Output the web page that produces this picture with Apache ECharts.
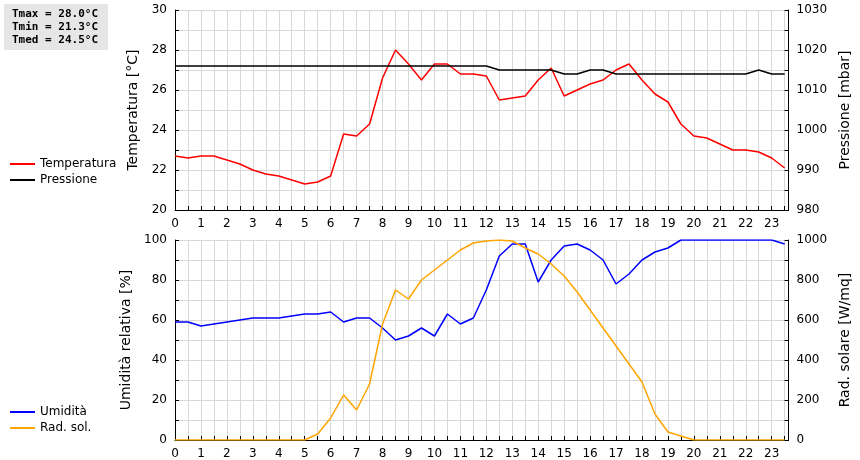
<!DOCTYPE html><html><head><meta charset="utf-8"><script src="https://cdn.jsdelivr.net/npm/echarts@6/dist/echarts.min.js"></script>
<style>body{margin:0}#c{width:860px;height:460px}</style></head><body><div id="c"></div><script>
const hours=[];for(let i=0;i<48;i++)hours.push(i/2);
const temperatura=[22.7,22.6,22.7,22.7,22.5,22.3,22.0,21.8,21.7,21.5,21.3,21.4,21.7,23.8,23.7,24.3,26.6,28.0,27.3,26.5,27.3,27.3,26.8,26.8,26.7,25.5,25.6,25.7,26.5,27.1,25.7,26.0,26.3,26.5,27.0,27.3,26.5,25.8,25.4,24.3,23.7,23.6,23.3,23.0,23.0,22.9,22.6,22.1];
const pressione=[1016,1016,1016,1016,1016,1016,1016,1016,1016,1016,1016,1016,1016,1016,1016,1016,1016,1016,1016,1016,1016,1016,1016,1016,1016,1015,1015,1015,1015,1015,1014,1014,1015,1015,1014,1014,1014,1014,1014,1014,1014,1014,1014,1014,1014,1015,1014,1014];
const umidita=[59,59,57,58,59,60,61,61,61,62,63,63,64,59,61,61,56,50,52,56,52,63,58,61,75,92,98,98,79,90,97,98,95,90,78,83,90,94,96,100,100,100,100,100,100,100,100,98];
const radsol=[0,0,0,0,0,0,0,0,0,0,0,30,110,225,150,280,580,750,705,800,850,900,950,985,995,1000,995,960,930,880,820,740,650,560,470,380,290,130,40,20,0,0,0,0,0,0,0,0];
const pairs=a=>a.map((v,i)=>[hours[i],v]);
const ax={color:'#000',fontSize:12,fontFamily:'DejaVu Sans'};
const line={lineStyle:{color:'#000'}};
const gl={show:true,lineStyle:{color:'#d8d8d8'}};
function xA(g){return {type:'value',gridIndex:g,min:0,max:23.65,interval:0.5,axisLine:line,axisTick:{inside:true,length:4,lineStyle:{color:'#000'}},splitLine:gl,axisLabel:Object.assign({},ax,{showMaxLabel:false,formatter:v=>Number.isInteger(v)?v:''})};}
function yA(g,min,max,iv,lab,name,pos,split){return {type:'value',gridIndex:g,position:pos,min,max,interval:iv,name,nameLocation:'middle',nameGap:pos=='left'?28:42,nameTextStyle:{color:'#000',fontSize:14,fontFamily:'DejaVu Sans'},axisLine:{show:true,lineStyle:{color:'#000'}},axisTick:{show:true,inside:true,length:4,lineStyle:{color:'#000'}},splitLine:split?gl:{show:false},axisLabel:Object.assign({},ax,{formatter:v=>(Math.round(v-min)%lab===0)?v:''})};}
const chart=echarts.init(document.getElementById('c'));
chart.setOption({animation:false,backgroundColor:'#fff',
grid:[{left:175,right:70,top:10,height:200},{left:175,right:70,top:240,height:200}],
xAxis:[xA(0),xA(1)],
yAxis:[yA(0,20,30,1,2,'Temperatura [°C]','left',true),yA(0,980,1030,5,10,'Pressione [mbar]','right',false),yA(1,0,100,10,20,'Umidità relativa [%]','left',true),yA(1,0,1000,100,200,'Rad. solare [W/mq]','right',false)],
legend:[{left:5,top:153,orient:'vertical',itemGap:4,itemWidth:25,itemHeight:2,icon:'rect',textStyle:{fontSize:12,color:'#000',fontFamily:'DejaVu Sans'},data:['Temperatura','Pressione']},
{left:5,top:435-34,orient:'vertical',itemGap:4,itemWidth:25,itemHeight:2,icon:'rect',textStyle:{fontSize:12,color:'#000',fontFamily:'DejaVu Sans'},data:['Umidità','Rad. sol.']}],
graphic:[{type:'rect',left:4,top:4,shape:{width:104,height:46},style:{fill:'#e6e6e6'}},
{type:'text',left:12,top:8,style:{text:'Tmax = 28.0°C\nTmin = 21.3°C\nTmed = 24.5°C',font:'bold 11px "DejaVu Sans Mono"',lineHeight:13,fill:'#000'}}],
series:[
{name:'Temperatura',type:'line',xAxisIndex:0,yAxisIndex:0,data:pairs(temperatura),showSymbol:false,color:'#f00',lineStyle:{width:1.5}},
{name:'Pressione',type:'line',xAxisIndex:0,yAxisIndex:1,data:pairs(pressione),showSymbol:false,color:'#000',lineStyle:{width:1.5}},
{name:'Umidità',type:'line',xAxisIndex:1,yAxisIndex:2,data:pairs(umidita),showSymbol:false,color:'#00f',lineStyle:{width:1.5},z:3},
{name:'Rad. sol.',type:'line',xAxisIndex:1,yAxisIndex:3,data:pairs(radsol),showSymbol:false,color:'#ffa500',lineStyle:{width:1.5}}
]});
</script></body></html>
